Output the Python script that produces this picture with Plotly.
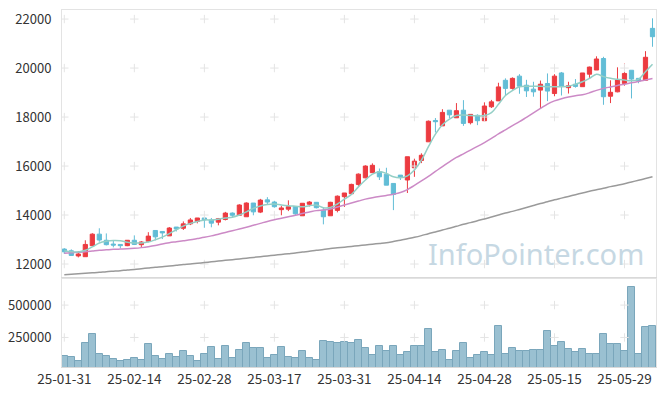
import plotly.graph_objects as go

dates = ["2025-01-31",
         "2025-02-03", "2025-02-04", "2025-02-05", "2025-02-06", "2025-02-07",
         "2025-02-10", "2025-02-11", "2025-02-12", "2025-02-13", "2025-02-14",
         "2025-02-17", "2025-02-18", "2025-02-19", "2025-02-20", "2025-02-21",
         "2025-02-24", "2025-02-25", "2025-02-26", "2025-02-27", "2025-02-28",
         "2025-03-04", "2025-03-05", "2025-03-06", "2025-03-07",
         "2025-03-10", "2025-03-11", "2025-03-12", "2025-03-13", "2025-03-14",
         "2025-03-17", "2025-03-18", "2025-03-19", "2025-03-20", "2025-03-21",
         "2025-03-24", "2025-03-25", "2025-03-26", "2025-03-27", "2025-03-28",
         "2025-03-31", "2025-04-01", "2025-04-02", "2025-04-03", "2025-04-04",
         "2025-04-07", "2025-04-08", "2025-04-09", "2025-04-10", "2025-04-11",
         "2025-04-14", "2025-04-15", "2025-04-16", "2025-04-17", "2025-04-18",
         "2025-04-21", "2025-04-22", "2025-04-23", "2025-04-24", "2025-04-25",
         "2025-04-28", "2025-04-29", "2025-04-30", "2025-05-02",
         "2025-05-07", "2025-05-08", "2025-05-09",
         "2025-05-12", "2025-05-13", "2025-05-14", "2025-05-15", "2025-05-16",
         "2025-05-19", "2025-05-20", "2025-05-21", "2025-05-22", "2025-05-23",
         "2025-05-26", "2025-05-27", "2025-05-28", "2025-05-29", "2025-05-30",
         "2025-06-02", "2025-06-04", "2025-06-05"]

open_ = [12610, 12540, 12330, 12300, 12750, 13220, 12970, 12815, 12800, 12750,
         12970, 12790, 12930, 13370, 13330, 13150, 13510, 13460, 13640, 13740,
         13880, 13800, 13710, 13820, 14080, 13990, 13930, 14490, 14120, 14620,
         14530, 14220, 14240, 14350, 13970, 14440, 14520, 14200, 13970, 14190,
         14750, 14870, 15250, 15520, 15730, 15770, 15670, 15290, 15630, 15430,
         15930, 16230, 16990, 17860, 17640, 18280, 17970, 18280, 17770, 18070,
         17850, 18420, 18660, 19500, 19170, 19670, 19300, 19140, 19100, 19370,
         18960, 19800, 19200, 19340, 19240, 19750, 19920, 20390, 18850, 19030,
         19370, 19910, 19580, 19500, 21620]
high = [12650, 12600, 12530, 12970, 13260, 13460, 13250, 12950, 12800, 12980,
        13170, 12940, 13300, 13370, 13330, 13510, 13510, 13740, 13880, 13880,
        13880, 13880, 13880, 14130, 14110, 14440, 14520, 14490, 14660, 14730,
        14580, 14380, 14600, 14350, 14480, 14570, 14530, 14300, 14540, 14800,
        14900, 15280, 15700, 16030, 16110, 15900, 15930, 15290, 15630, 16380,
        16300, 16520, 17860, 17960, 18320, 18280, 18570, 18690, 18110, 18110,
        18600, 18700, 19400, 19580, 19620, 19750, 19520, 19440, 19490, 19780,
        19750, 19840, 19440, 19550, 19800, 20060, 20480, 20460, 19500, 20030,
        20180, 19910, 19580, 20690, 22030]
low = [12410, 12330, 12270, 12300, 12750, 12910, 12760, 12680, 12640, 12730,
       12775, 12690, 12890, 12970, 13020, 13150, 13330, 13390, 13590, 13660,
       13480, 13500, 13580, 13780, 13890, 13990, 13930, 13990, 14080, 14420,
       14300, 13990, 14160, 14000, 13970, 14350, 14270, 13620, 13970, 14110,
       14330, 14870, 15190, 15500, 15730, 15430, 15220, 14200, 15430, 14900,
       15560, 16120, 16990, 17370, 17640, 17950, 17970, 17640, 17700, 17670,
       17850, 18370, 18660, 18900, 19120, 18950, 18820, 18830, 18350, 18650,
       18850, 18880, 18960, 19200, 19240, 19570, 19920, 18500, 18570, 19010,
       19280, 18760, 19380, 19500, 20870]
close = [12500, 12350, 12410, 12800, 13220, 12980, 12790, 12775, 12750, 12970,
         12800, 12900, 13140, 13110, 13270, 13470, 13430, 13640, 13800, 13880,
         13800, 13670, 13850, 14080, 13990, 14410, 14490, 14130, 14610, 14530,
         14340, 14290, 14340, 14050, 14480, 14530, 14300, 13930, 14520, 14770,
         14900, 15250, 15670, 16000, 16030, 15560, 15220, 14840, 15550, 16380,
         16200, 16440, 17830, 17810, 18190, 18090, 18260, 17740, 18110, 17850,
         18450, 18620, 19230, 19170, 19580, 19260, 19070, 19030, 19340, 19060,
         19670, 19260, 19280, 19250, 19800, 20040, 20370, 18830, 19010, 19510,
         19780, 19550, 19470, 20440, 21280]

ma5 = [12540, 12500, 12490, 12560, 12700, 12860, 12930, 12960, 12950, 12890,
       12860, 12860, 12900, 12990, 13100, 13240, 13400, 13550, 13660, 13740,
       13800, 13800, 13830, 13880, 13910, 14000, 14130, 14270, 14370, 14430,
       14450, 14410, 14380, 14360, 14340, 14380, 14410, 14300, 14310, 14450,
       14650, 14840, 15150, 15430, 15670, 15770, 15700, 15560, 15520, 15600,
       15840, 16240, 16790, 17300, 17690, 17920, 18060, 18080, 18060, 18050,
       18060, 18180, 18520, 18880, 19080, 19240, 19260, 19260, 19260, 19240,
       19240, 19240, 19260, 19340, 19440, 19580, 19750, 19650, 19580, 19540,
       19510, 19480, 19540, 19850, 20160]
ma20 = [12440, 12460, 12480, 12500, 12530, 12560, 12580, 12600, 12610, 12620,
        12640, 12670, 12710, 12760, 12820, 12870, 12910, 12950, 12990, 13040,
        13090, 13150, 13220, 13290, 13360, 13430, 13500, 13580, 13660, 13740,
        13810, 13870, 13930, 13990, 14060, 14120, 14180, 14210, 14250, 14330,
        14410, 14490, 14570, 14650, 14710, 14760, 14800, 14850, 14920, 15040,
        15210, 15390, 15580, 15780, 15980, 16170, 16350, 16500, 16650, 16800,
        16960, 17130, 17310, 17480, 17650, 17810, 17990, 18170, 18350, 18530,
        18660, 18750, 18820, 18870, 18910, 18990, 19090, 19170, 19230, 19290,
        19340, 19400, 19450, 19510, 19570]
ma120 = [11560, 11580, 11600, 11620, 11640, 11660, 11690, 11710, 11730, 11760,
         11780, 11810, 11840, 11870, 11890, 11920, 11950, 11980, 12000, 12030,
         12060, 12090, 12120, 12150, 12180, 12210, 12240, 12270, 12300, 12330,
         12360, 12390, 12420, 12450, 12490, 12520, 12560, 12590, 12630, 12660,
         12690, 12720, 12750, 12780, 12810, 12840, 12870, 12920, 12970, 13030,
         13090, 13160, 13240, 13310, 13390, 13460, 13540, 13620, 13690, 13770,
         13840, 13920, 14000, 14080, 14150, 14230, 14310, 14390, 14470, 14540,
         14620, 14690, 14760, 14830, 14900, 14970, 15030, 15090, 15160, 15220,
         15280, 15350, 15420, 15490, 15560]
volume = [106000, 96000, 68000, 205000, 273000, 121000, 106000, 83000, 68000, 76000,
          91000, 76000, 197000, 106000, 83000, 121000, 98000, 144000, 106000, 68000,
          121000, 174000, 83000, 182000, 91000, 152000, 205000, 167000, 167000, 91000,
          114000, 174000, 96000, 88000, 144000, 88000, 76000, 220000, 212000, 205000,
          212000, 205000, 232000, 172000, 111000, 182000, 144000, 187000, 111000, 136000,
          187000, 182000, 316000, 136000, 157000, 76000, 144000, 205000, 88000, 111000,
          136000, 114000, 341000, 120000, 172000, 144000, 144000, 152000, 152000, 303000,
          182000, 212000, 164000, 136000, 164000, 119000, 126000, 273000, 197000, 197000,
          144000, 636000, 119000, 333000, 341000]

price_ticks = [12000, 14000, 16000, 18000, 20000, 22000]
volume_ticks = [250000, 500000]
x_tick_step = 10

idx = list(range(len(dates)))
tick_idx = idx[::x_tick_step]
tick_text = [dates[i][2:] for i in tick_idx]

UP = "#ec3b40"
DOWN = "#62bdd6"
FONT = "Noto Sans CJK KR"
CROSS = dict(symbol="cross-thin", size=6, line=dict(color="#e4e4e4", width=1))

fig = go.Figure()

# grid crosses
cx, cy = [], []
for t in tick_idx:
    for p in price_ticks:
        cx.append(t)
        cy.append(p)
fig.add_trace(go.Scatter(x=cx, y=cy, mode="markers", xaxis="x", yaxis="y",
                         marker=CROSS, hoverinfo="skip", showlegend=False))
vx, vy = [], []
for t in tick_idx:
    for v in volume_ticks:
        vx.append(t)
        vy.append(v)
fig.add_trace(go.Scatter(x=vx, y=vy, mode="markers", xaxis="x2", yaxis="y2",
                         marker=CROSS, hoverinfo="skip", showlegend=False))

fig.add_trace(go.Candlestick(
    x=idx, open=open_, high=high, low=low, close=close,
    xaxis="x", yaxis="y",
    increasing=dict(line=dict(color=UP, width=1), fillcolor=UP),
    decreasing=dict(line=dict(color=DOWN, width=1), fillcolor=DOWN),
    whiskerwidth=0, showlegend=False))

fig.add_trace(go.Scatter(x=idx, y=ma120, mode="lines", xaxis="x", yaxis="y",
                         line=dict(color="#9a9a9a", width=1.5, shape="spline"),
                         showlegend=False))
fig.add_trace(go.Scatter(x=idx, y=ma20, mode="lines", xaxis="x", yaxis="y",
                         line=dict(color="#cc8ac6", width=1.5, shape="spline"),
                         showlegend=False))
fig.add_trace(go.Scatter(x=idx, y=ma5, mode="lines", xaxis="x", yaxis="y",
                         line=dict(color="#94cfc6", width=1.5, shape="spline"),
                         showlegend=False))

fig.add_trace(go.Bar(x=idx, y=volume, xaxis="x2", yaxis="y2",
                     marker=dict(color="#9ac0d1", line=dict(color="#7aa6bb", width=1)),
                     showlegend=False))

split = 89 / 357
xr = [-0.33, 84.5]
# the page body has an 8px default margin, so the figure is 8px smaller
fig.update_layout(
    width=657, height=388,
    margin=dict(l=54, r=9, t=2, b=29, autoexpand=False),
    paper_bgcolor="white", plot_bgcolor="white",
    font=dict(family=FONT, size=13, color="#333333"),
    bargap=0.0, boxgap=0.14,
    xaxis=dict(domain=[0, 1], range=xr, autorange=False, showticklabels=False,
               showgrid=False, zeroline=False, showline=True, mirror=True,
               linecolor="#e3e3e3", automargin=False,
               rangeslider=dict(visible=False), anchor="y"),
    yaxis=dict(domain=[split, 1], range=[11430, 22370], autorange=False,
               tickvals=price_ticks, ticktext=[str(v) for v in price_ticks],
               showgrid=False, zeroline=False, showline=True, mirror=True,
               linecolor="#e3e3e3", automargin=False,
               ticks="", ticklabelstandoff=7, anchor="x"),
    xaxis2=dict(domain=[0, 1], range=xr, autorange=False, tickvals=tick_idx,
                ticktext=tick_text, showgrid=False, zeroline=False,
                showline=True, mirror=True, automargin=False,
                tickfont=dict(size=13.5),
                linecolor="#d9d9d9", ticks="", anchor="y2"),
    yaxis2=dict(domain=[0, split], range=[22000, 709000], autorange=False,
                tickvals=volume_ticks, ticktext=[str(v) for v in volume_ticks],
                showgrid=False, zeroline=False, showline=True, mirror=True,
                linecolor="#e3e3e3", automargin=False,
                ticks="", ticklabelstandoff=7, anchor="x2"),
    annotations=[dict(text="InfoPointer.com", xref="paper", yref="paper",
                      x=0.984, y=0.258, xanchor="right", yanchor="bottom",
                      showarrow=False,
                      font=dict(family="Noto Sans", size=29, color="#c6d8e3"))],
)

fig.write_html("out.html", config={"displayModeBar": False})
